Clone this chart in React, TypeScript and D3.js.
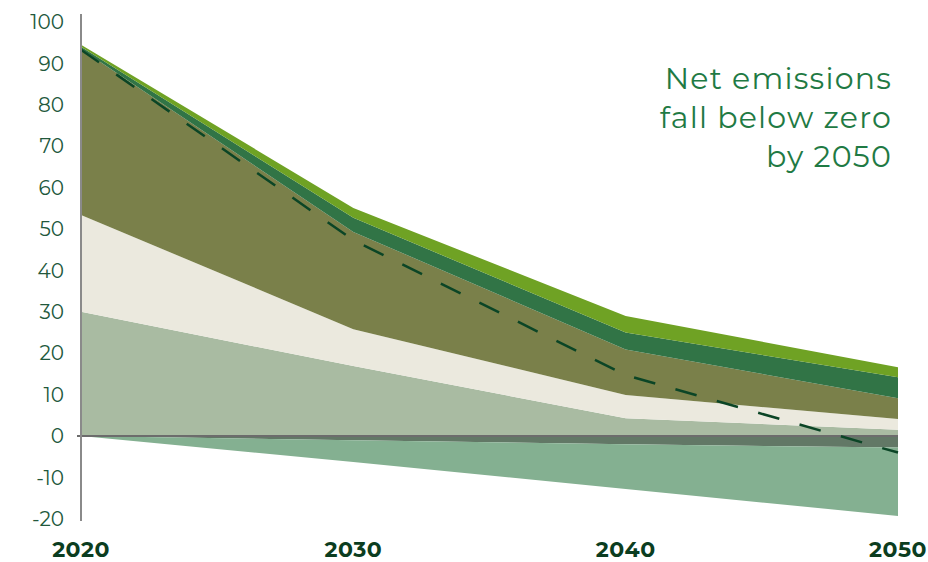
import React from "react";
import * as d3 from "d3";

const years = [2020, 2030, 2040, 2050];
const sage = [30, 16.9, 4.3, 1.5];
const cream = [23.4, 8.9, 5.6, 2.6];
const olive = [40.1, 23.5, 11.0, 5.0];
const darkGreen = [0.5, 3.4, 4.1, 5.1];
const lime = [0.5, 2.4, 4.0, 2.4];
const greyBand = [0, -1, -2, -2.8];
const negGreen = [0, -5.3, -10.8, -16.5];
const net = [93.3, 47.3, 14.7, -4];
const yTicks = [100, 90, 80, 70, 60, 50, 40, 30, 20, 10, 0, -10, -20];
const titleLines = ["Net emissions", "fall below zero", "by 2050"];

const keys = ["sage", "cream", "olive", "darkGreen", "lime", "greyBand", "negGreen"];
const colors: Record<string, string> = {
  sage: "#a9bba2",
  cream: "#ebe9de",
  olive: "#7a804a",
  darkGreen: "#317446",
  lime: "#6fa224",
  greyBand: "#627866",
  negGreen: "#84b091",
};

export default function App() {
  const W = 928, H = 562;
  const x = d3.scaleLinear().domain([2020, 2050]).range([81, 898]);
  const y = d3.scaleLinear().domain([-20, 100]).range([518.8, 22]);

  const rows = years.map((yr, i) => ({
    year: yr,
    sage: sage[i],
    cream: cream[i],
    olive: olive[i],
    darkGreen: darkGreen[i],
    lime: lime[i],
    greyBand: greyBand[i],
    negGreen: negGreen[i],
  }));
  const series = d3.stack<any>().keys(keys).offset(d3.stackOffsetDiverging)(rows);
  const area = d3
    .area<any>()
    .x((d) => x(d.data.year))
    .y0((d) => y(d[0]))
    .y1((d) => y(d[1]));
  const netLine = d3
    .line<number>()
    .x((_, i) => x(years[i]))
    .y((d) => y(d));

  const font = "Montserrat, 'Noto Sans', sans-serif";

  return (
    <svg width={W} height={H} style={{ position: "absolute", left: 0, top: 0 }}>
      <rect width={W} height={H} fill="#ffffff" />
      {series.map((s) => (
        <path key={s.key} d={area(s as any) || ""} fill={colors[s.key]} />
      ))}
      <line x1={77} x2={x(2050)} y1={y(0)} y2={y(0)} stroke="#6c6c6c" strokeWidth={2} />
      <path
        d={netLine(net) || ""}
        fill="none"
        stroke="#0b4526"
        strokeWidth={2.5}
        strokeDasharray="22 21"
      />
      <line x1={81} x2={81} y1={14} y2={521} stroke="#8a8a8a" strokeWidth={2} />
      {yTicks.map((t) => (
        <text
          key={t}
          x={64}
          y={y(t)}
          dy="0.36em"
          textAnchor="end"
          fontFamily={font}
          fontSize={20}
          fill="#22583c"
        >
          {t}
        </text>
      ))}
      {years.map((yr) => (
        <text
          key={yr}
          x={x(yr)}
          y={557}
          textAnchor="middle"
          fontFamily={font}
          fontWeight={700}
          fontSize={22}
          letterSpacing={0.5}
          fill="#0b3d20"
        >
          {yr}
        </text>
      ))}
      {titleLines.map((l, i) => (
        <text
          key={l}
          x={892}
          y={89 + i * 39}
          textAnchor="end"
          fontFamily={font}
          fontSize={30}
          letterSpacing={1.2}
          fill="#1f7a44"
        >
          {l}
        </text>
      ))}
    </svg>
  );
}
